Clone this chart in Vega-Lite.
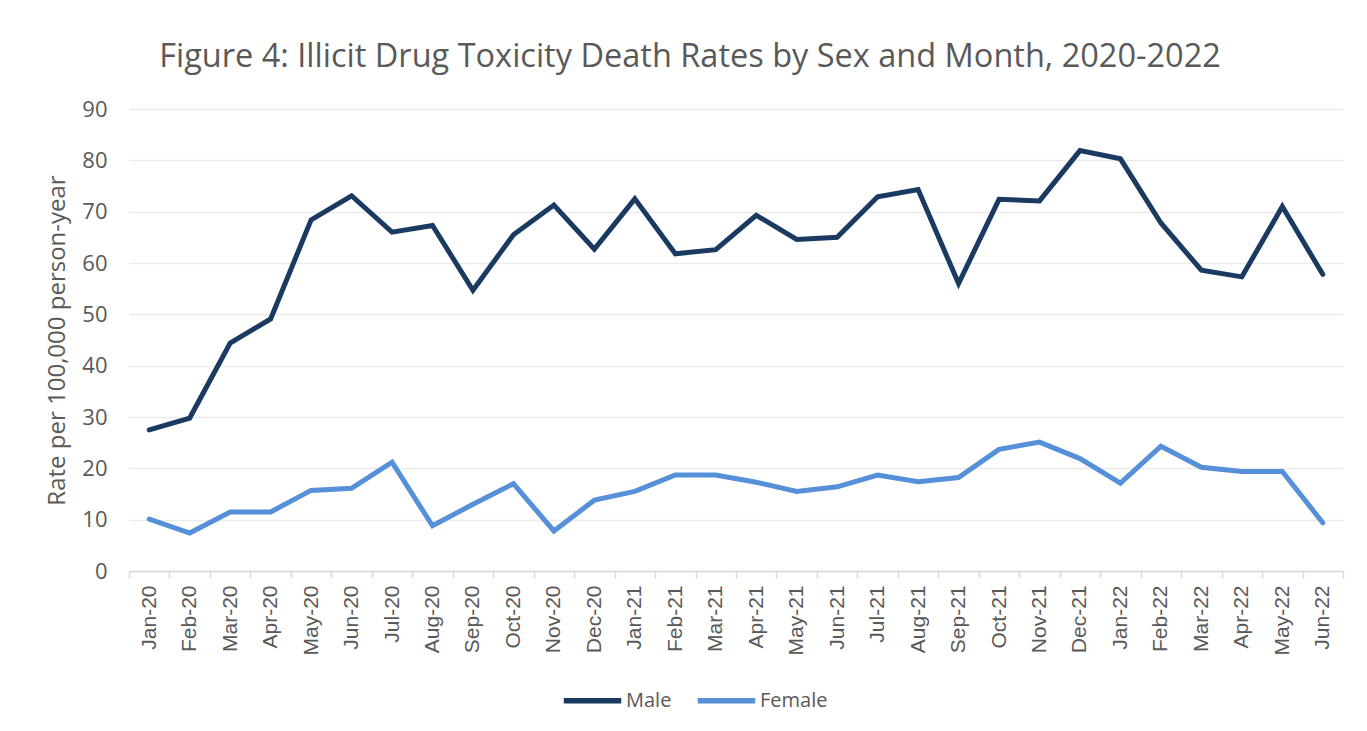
{
  "$schema": "https://vega.github.io/schema/vega-lite/v6.json",
  "autosize": "none",
  "width": 1214,
  "height": 462,
  "padding": {"left": 129, "top": 109, "right": 24, "bottom": 160},
  "background": "white",
  "title": {
    "text": "Figure 4: Illicit Drug Toxicity Death Rates by Sex and Month, 2020-2022",
    "font": "Open Sans",
    "fontSize": 32.5,
    "fontWeight": "normal",
    "color": "#595959",
    "anchor": "middle",
    "dx": -46,
    "offset": 25
  },
  "data": {
    "values": [
      {"month": "Jan-20", "sex": "Male", "rate": 27.5},
      {"month": "Feb-20", "sex": "Male", "rate": 29.8},
      {"month": "Mar-20", "sex": "Male", "rate": 44.4},
      {"month": "Apr-20", "sex": "Male", "rate": 49.1},
      {"month": "May-20", "sex": "Male", "rate": 68.4},
      {"month": "Jun-20", "sex": "Male", "rate": 73.1},
      {"month": "Jul-20", "sex": "Male", "rate": 66.0},
      {"month": "Aug-20", "sex": "Male", "rate": 67.3},
      {"month": "Sep-20", "sex": "Male", "rate": 54.7},
      {"month": "Oct-20", "sex": "Male", "rate": 65.5},
      {"month": "Nov-20", "sex": "Male", "rate": 71.3},
      {"month": "Dec-20", "sex": "Male", "rate": 62.7},
      {"month": "Jan-21", "sex": "Male", "rate": 72.5},
      {"month": "Feb-21", "sex": "Male", "rate": 61.8},
      {"month": "Mar-21", "sex": "Male", "rate": 62.6},
      {"month": "Apr-21", "sex": "Male", "rate": 69.3},
      {"month": "May-21", "sex": "Male", "rate": 64.6},
      {"month": "Jun-21", "sex": "Male", "rate": 65.0},
      {"month": "Jul-21", "sex": "Male", "rate": 72.9},
      {"month": "Aug-21", "sex": "Male", "rate": 74.3},
      {"month": "Sep-21", "sex": "Male", "rate": 56.0},
      {"month": "Oct-21", "sex": "Male", "rate": 72.4},
      {"month": "Nov-21", "sex": "Male", "rate": 72.1},
      {"month": "Dec-21", "sex": "Male", "rate": 81.9},
      {"month": "Jan-22", "sex": "Male", "rate": 80.3},
      {"month": "Feb-22", "sex": "Male", "rate": 67.8},
      {"month": "Mar-22", "sex": "Male", "rate": 58.6},
      {"month": "Apr-22", "sex": "Male", "rate": 57.3},
      {"month": "May-22", "sex": "Male", "rate": 71.0},
      {"month": "Jun-22", "sex": "Male", "rate": 57.8},
      {"month": "Jan-20", "sex": "Female", "rate": 10.1},
      {"month": "Feb-20", "sex": "Female", "rate": 7.4},
      {"month": "Mar-20", "sex": "Female", "rate": 11.5},
      {"month": "Apr-20", "sex": "Female", "rate": 11.5},
      {"month": "May-20", "sex": "Female", "rate": 15.7},
      {"month": "Jun-20", "sex": "Female", "rate": 16.1},
      {"month": "Jul-20", "sex": "Female", "rate": 21.2},
      {"month": "Aug-20", "sex": "Female", "rate": 8.8},
      {"month": "Sep-20", "sex": "Female", "rate": 13.0},
      {"month": "Oct-20", "sex": "Female", "rate": 17.0},
      {"month": "Nov-20", "sex": "Female", "rate": 7.8},
      {"month": "Dec-20", "sex": "Female", "rate": 13.8},
      {"month": "Jan-21", "sex": "Female", "rate": 15.5},
      {"month": "Feb-21", "sex": "Female", "rate": 18.7},
      {"month": "Mar-21", "sex": "Female", "rate": 18.7},
      {"month": "Apr-21", "sex": "Female", "rate": 17.3},
      {"month": "May-21", "sex": "Female", "rate": 15.5},
      {"month": "Jun-21", "sex": "Female", "rate": 16.4},
      {"month": "Jul-21", "sex": "Female", "rate": 18.7},
      {"month": "Aug-21", "sex": "Female", "rate": 17.4},
      {"month": "Sep-21", "sex": "Female", "rate": 18.2},
      {"month": "Oct-21", "sex": "Female", "rate": 23.7},
      {"month": "Nov-21", "sex": "Female", "rate": 25.1},
      {"month": "Dec-21", "sex": "Female", "rate": 21.9},
      {"month": "Jan-22", "sex": "Female", "rate": 17.1},
      {"month": "Feb-22", "sex": "Female", "rate": 24.3},
      {"month": "Mar-22", "sex": "Female", "rate": 20.2},
      {"month": "Apr-22", "sex": "Female", "rate": 19.4},
      {"month": "May-22", "sex": "Female", "rate": 19.4},
      {"month": "Jun-22", "sex": "Female", "rate": 9.4}
    ]
  },
  "mark": {"type": "line", "strokeWidth": 5, "strokeCap": "round", "strokeJoin": "miter"},
  "encoding": {
    "x": {
      "field": "month",
      "type": "ordinal",
      "sort": null,
      "scale": {"type": "band", "paddingInner": 0, "paddingOuter": 0},
      "axis": {
        "title": null,
        "labelAngle": -90,
        "labelFont": "Liberation Sans",
        "labelFontSize": 21,
        "labelColor": "#595959",
        "labelPadding": 7,
        "tickBand": "extent",
        "ticks": true,
        "tickSize": 7,
        "tickColor": "#d9d9d9",
        "tickWidth": 1.5,
        "domainColor": "#d9d9d9",
        "domainWidth": 1.5,
        "grid": false
      }
    },
    "y": {
      "field": "rate",
      "type": "quantitative",
      "scale": {"domain": [0, 90], "nice": false},
      "axis": {
        "title": "Rate per 100,000 person-year",
        "titleFont": "Open Sans",
        "titleFontSize": 24,
        "titleFontWeight": "normal",
        "titleColor": "#595959",
        "titlePadding": 12,
        "values": [0, 10, 20, 30, 40, 50, 60, 70, 80, 90],
        "labelFont": "Open Sans",
        "labelFontSize": 22,
        "labelColor": "#595959",
        "labelPadding": 22,
        "ticks": false,
        "domain": false,
        "grid": true,
        "gridColor": "#ebebeb",
        "gridWidth": 1.5
      }
    },
    "color": {
      "field": "sex",
      "type": "nominal",
      "scale": {"domain": ["Male", "Female"], "range": ["#1b3a61", "#5590d9"]},
      "legend": {
        "title": null,
        "orient": "none",
        "direction": "horizontal",
        "legendX": 432,
        "legendY": 560,
        "symbolType": "stroke",
        "symbolSize": 3300,
        "symbolStrokeWidth": 5.5,
        "labelFont": "Open Sans",
        "labelFontSize": 20,
        "labelColor": "#595959",
        "labelOffset": 2,
        "columnPadding": 14
      }
    }
  },
  "config": {"view": {"stroke": null}}
}
